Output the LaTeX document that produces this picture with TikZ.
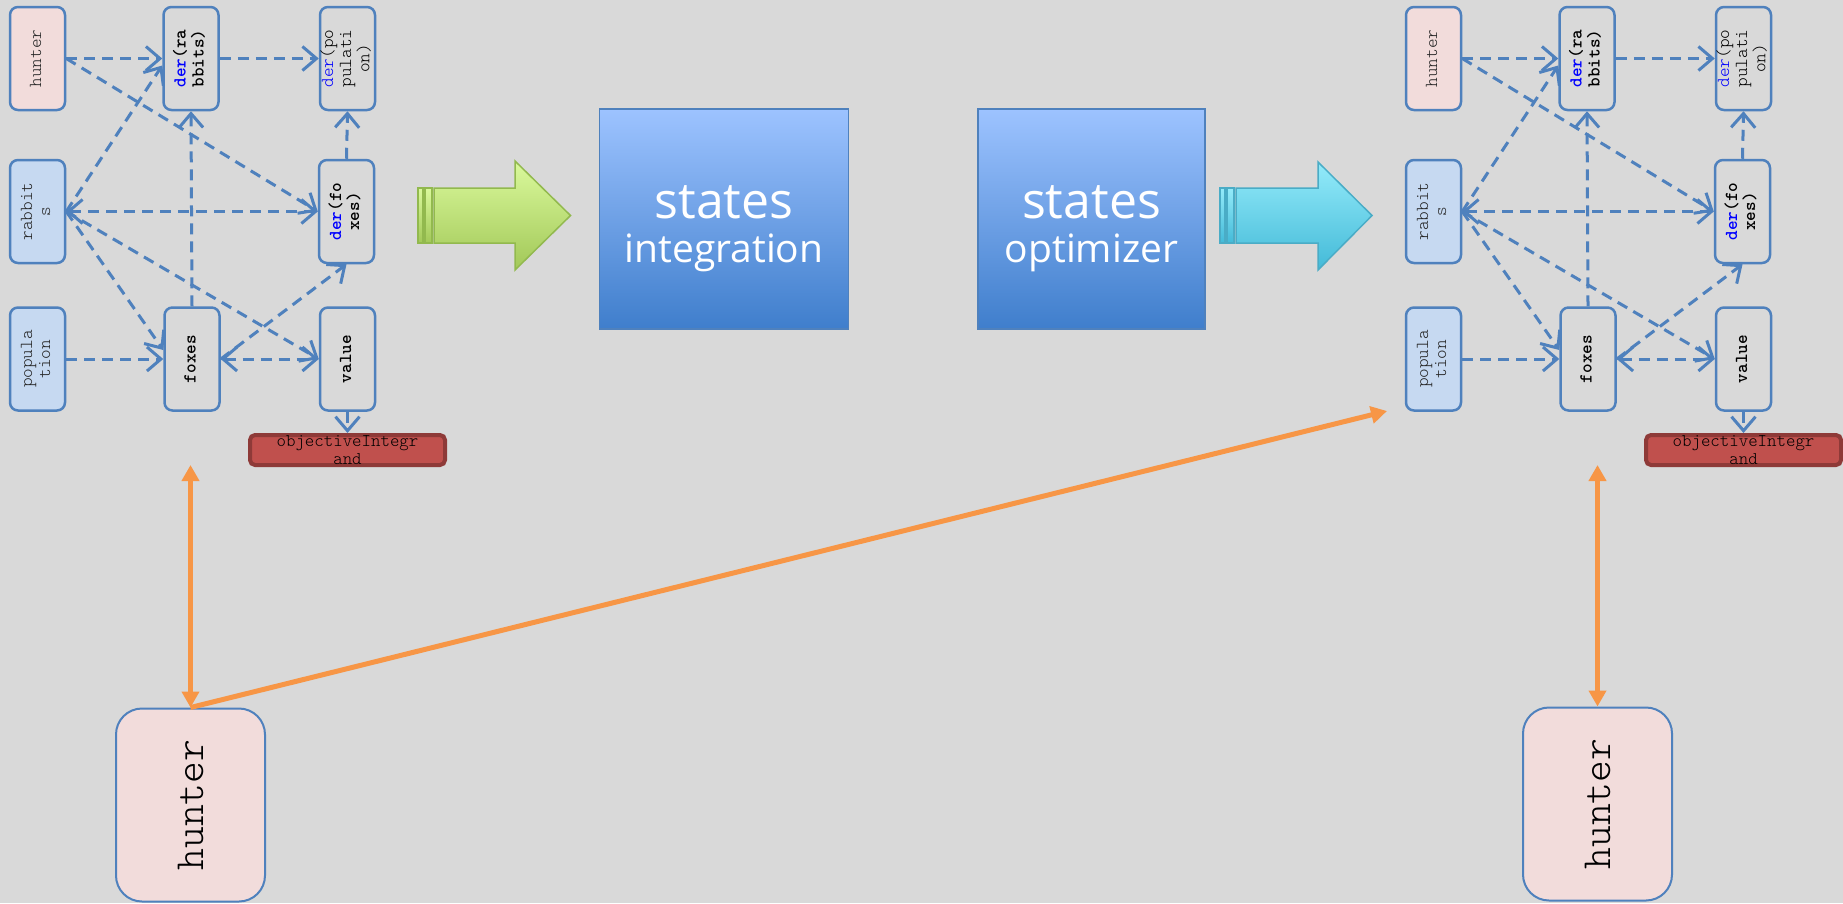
\documentclass[tikz,border=0pt]{standalone}
\usepackage{fontspec}
\usepackage{graphicx}
\setmainfont{Open Sans}
\newfontfamily\monofont{lmmonolt10-regular.otf}[BoldFont=lmmonolt10-bold.otf]
\usetikzlibrary{arrows.meta,calc}

\definecolor{bg}{HTML}{D9D9D9}
\definecolor{linkblue}{HTML}{4F81BD}
\definecolor{hunterpink}{HTML}{F2DCDB}
\definecolor{statefill}{HTML}{C6D9F1}
\definecolor{objred}{HTML}{C0504D}
\definecolor{objedge}{HTML}{8E3A38}
\definecolor{orangeline}{HTML}{F79646}
\definecolor{derblue}{HTML}{0000FF}
\definecolor{textgray}{HTML}{262626}
\definecolor{boxtop}{HTML}{9DC3FF}
\definecolor{boxbottom}{HTML}{3F7ECC}
\definecolor{greentop}{HTML}{DAF99C}
\definecolor{greenbottom}{HTML}{A2C858}
\definecolor{greenedge}{HTML}{92B94E}
\definecolor{cyantop}{HTML}{94EBFA}
\definecolor{cyanbottom}{HTML}{43BAD8}
\definecolor{cyanedge}{HTML}{4AACC6}

% rotated multi-line label for the small dependency boxes
\newcommand\vtext[1]{\rotatebox{90}{\begin{tabular}{@{}c@{}}#1\end{tabular}}}
\newcommand\derw{\textcolor{derblue}{der}}

% one dependency graph, drawn twice
\newcommand\depgraph{%
  \node[hunt] (H)  at (37.5,58.5)  {\vtext{hunter}};
  \node[var]  (DR) at (191,58.5)   {\vtext{\textbf{\derw(ra}\\\textbf{bbits)}}};
  \node[var]  (DP) at (347.5,58.5) {\vtext{\derw(po\\pulati\\on)}};
  \node[st]   (R)  at (37.5,211.5) {\vtext{rabbit\\s}};
  \node[var]  (DF) at (346.5,211.5){\vtext{\textbf{\derw(fo}\\\textbf{xes)}}};
  \node[st]   (P)  at (37.5,359)   {\vtext{popula\\tion}};
  \node[var]  (F)  at (192,359)    {\vtext{\textbf{foxes}}};
  \node[var]  (V)  at (347.5,359)  {\vtext{\textbf{value}}};
  \node[obj]  (OI) at (347.5,450)  {};
  \node[objtext] (OIT) at (347.5,450) {objectiveIntegr\\and};
  \draw[dep] (H.east) -- (DR.west);
  \draw[dep] (H.east) -- (DF.west);
  \draw[dep] (R.east) -- ($(DR.west)+(0,7)$);
  \draw[depboth] (R.east) -- (DF.west);
  \draw[dep] (R.east) -- ($(F.west)+(0,-9)$);
  \draw[dep] (R.east) -- (V.west);
  \draw[dep] (P.east) -- (F.west);
  \draw[dep] (F.north) -- (DR.south);
  \draw[dep] (F.east) -- (DF.south);
  \draw[depboth] (F.east) -- (V.west);
  \draw[dep] (DR.east) -- (DP.west);
  \draw[dep] (DF.north) -- (DP.south);
  \draw[dep] (V.south) -- (OI.north);
}

\begin{document}
\begin{tikzpicture}[x=1pt,y=-1pt,
  var/.style={draw=linkblue, line width=2.5pt, rounded corners=8pt,
    minimum width=55pt, minimum height=103pt, inner sep=0pt, fill=bg, text=black,
    font=\monofont\fontsize{18.3}{18}\selectfont},
  hunt/.style={var, fill=hunterpink, text=textgray},
  st/.style={var, fill=statefill, text=textgray},
  obj/.style={draw=objedge, fill=objred, line width=4pt, rounded corners=5pt,
    minimum width=195pt, minimum height=30pt, inner sep=0pt},
  objtext/.style={align=center, inner sep=0pt, text=black,
    font=\monofont\fontsize{18}{18}\selectfont},
  barb/.tip={Straight Barb[length=14pt,width=24pt]},
  dep/.style={draw=linkblue, line width=3pt, dash pattern=on 11pt off 7pt, -barb},
  depboth/.style={dep, barb-barb},
  bighunt/.style={draw=linkblue, line width=2pt, fill=hunterpink, rounded corners=26pt,
    minimum width=149pt, minimum height=193pt, inner sep=0pt, text=black,
    font=\monofont\fontsize{41.5}{44}\selectfont},
  oline/.style={draw=orangeline, line width=5pt},
  otip/.tip={Triangle[length=16pt,width=17pt]},
  sbox/.style={draw=linkblue, line width=1.5pt, top color=boxtop, bottom color=boxbottom,
    inner sep=0pt},
  bigw/.style={text=white, inner sep=0pt, anchor=base},
]
\path[fill=bg, use as bounding box] (0,0) rectangle (1843,903);

% left and right dependency graphs
\begin{scope}[name prefix=l]
  \depgraph
\end{scope}
\begin{scope}[shift={(1396,0)}, name prefix=r]
  \depgraph
\end{scope}

% green block arrow
\path[draw=greenedge, line width=1.5pt, top color=greentop, bottom color=greenbottom]
  (418,188) rectangle (423,243);
\path[draw=greenedge, line width=1.5pt, top color=greentop, bottom color=greenbottom]
  (425,188) rectangle (432,243);
\path[draw=greenedge, line width=1.5pt, top color=greentop, bottom color=greenbottom]
  (434,188) -- (515,188) -- (515,161) -- (570.5,215.5) -- (515,270) -- (515,243)
  -- (434,243) -- cycle;

% process boxes
\node[sbox, minimum width=249pt, minimum height=220pt] (SI) at (724,219) {};
\node[bigw, font=\fontsize{50}{50}\selectfont] (SIa) at (724,218) {states};
\node[bigw, font=\fontsize{39}{39}\selectfont] (SIb) at (724,262) {integration};
\node[sbox, minimum width=227pt, minimum height=220pt] (SO) at (1091.5,219) {};
\node[bigw, font=\fontsize{50}{50}\selectfont] (SOa) at (1091.5,218) {states};
\node[bigw, font=\fontsize{39}{39}\selectfont] (SOb) at (1091.5,262) {optimizer};

% cyan block arrow
\path[draw=cyanedge, line width=1.5pt, top color=cyantop, bottom color=cyanbottom]
  (1220,188) rectangle (1225,243);
\path[draw=cyanedge, line width=1.5pt, top color=cyantop, bottom color=cyanbottom]
  (1227,188) rectangle (1234,243);
\path[draw=cyanedge, line width=1.5pt, top color=cyantop, bottom color=cyanbottom]
  (1236,188) -- (1318,188) -- (1318,162) -- (1372,215.5) -- (1318,270) -- (1318,243)
  -- (1236,243) -- cycle;

% hunter inputs
\node[bighunt] (LH) at (190.5,805) {\rotatebox{90}{hunter}};
\node[bighunt] (RH) at (1597.5,804) {\rotatebox{90}{hunter}};

\coordinate (lup) at (190.5,465);
\coordinate (rup) at (1597.5,465);
\coordinate (rtarget) at (1387,411);
\draw[oline, otip-otip] (lup) -- (LH.north);
\draw[oline, -otip] (LH.north) -- (rtarget);
\draw[oline, otip-otip] (rup) -- (RH.north);
\end{tikzpicture}
\end{document}
